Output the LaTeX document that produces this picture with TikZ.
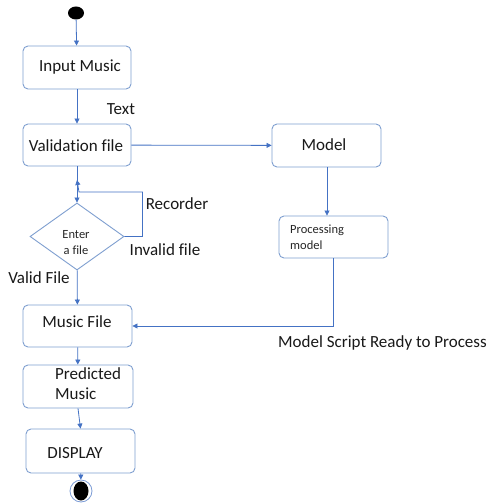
\documentclass[tikz,border=0pt]{standalone}
\usepackage{fontspec}
\setmainfont{Carlito}[Ligatures=NoCommon]
\usetikzlibrary{shapes.geometric,arrows.meta}
\definecolor{flow}{HTML}{4472C4}
\definecolor{edge}{HTML}{7F9FD0}
\tikzset{
  stepbox/.style={draw=edge, line width=0.9pt, rounded corners=5pt, inner sep=0pt},
  link/.style={draw=flow, line width=0.8pt, -{Triangle[length=5pt,width=5pt]}},
  lbl/.style={font=\fontsize{17}{20}\selectfont, text=black!90, inner sep=0pt},
  small/.style={font=\fontsize{12.5}{16}\selectfont, text=black!85, inner sep=0pt},
}
\begin{document}
\begin{tikzpicture}[x=1pt,y=-1pt]
\useasboundingbox (0,0) rectangle (489,503);
\fill[white] (0,0) rectangle (489,503);

% start and end markers
\node[fill=black, ellipse, minimum width=16pt, minimum height=13pt, inner sep=0pt] (start) at (76,13) {};
\node[draw=flow!70, circle, line width=0.8pt, minimum size=22pt, inner sep=0pt] (finish) at (81,491) {};
\fill[black] (81,491) ellipse (7.5 and 9.5);

% activity boxes
\node[stepbox, minimum width=108pt, minimum height=43pt] (input) at (77,67.5) {};
\node[lbl] at (80,67) {Input Music};
\node[stepbox, minimum width=108pt, minimum height=42pt] (valid) at (77,145) {};
\node[lbl] at (76,146) {Validation file};
\node[stepbox, minimum width=109pt, minimum height=43pt] (model) at (326.5,145.5) {};
\node[lbl] at (324,145) {Model};
\node[stepbox, minimum width=109pt, minimum height=42pt] (proc) at (333.5,237) {};
\node[small, align=left, anchor=north west] at (290,225) {Processing\\model};
\node[diamond, draw=edge, line width=0.9pt, minimum width=94pt, minimum height=67pt, inner sep=0pt] (check) at (77,236.5) {};
\node[small, align=center] at (76,243) {Enter\\a file};
\node[stepbox, minimum width=109pt, minimum height=42pt] (music) at (77.5,326) {};
\node[lbl] at (77,322) {Music File};
\node[stepbox, minimum width=110pt, minimum height=43pt] (pred) at (78,386.5) {};
\node[lbl, align=left, anchor=north west] at (55,367) {Predicted\\Music};
\node[stepbox, minimum width=109pt, minimum height=44pt] (disp) at (80.5,451) {};
\node[lbl] at (75,453) {DISPLAY};

% free labels
\node[lbl] at (121,109) {Text};
\node[lbl] at (177,204) {Recorder};
\node[lbl] at (165,250) {Invalid file};
\node[lbl] at (39,278) {Valid File};
\node[lbl, anchor=west] at (278,343) {Model Script Ready to Process};

% connectors
\coordinate (loopin) at (77,180);
\coordinate (modeldrop) at (327,0);
\draw[link] (start) -- (input);
\draw[link] (input) -- (valid);
\draw[link] (valid) -- (model);
\draw[link] (valid) -- (check);
\draw[link] (check.east) -- ++(18,0) |- (79,192) -- (loopin);
\draw[link] (model.south -| modeldrop) -- (proc.north -| modeldrop);
\draw[link] (proc.south) |- (music.east);
\draw[link] (check) -- (music);
\draw[link] (music) -- (pred);
\draw[link] (pred.south) -- (disp.north);
\draw[link] (disp) -- (finish);
\end{tikzpicture}
\end{document}
